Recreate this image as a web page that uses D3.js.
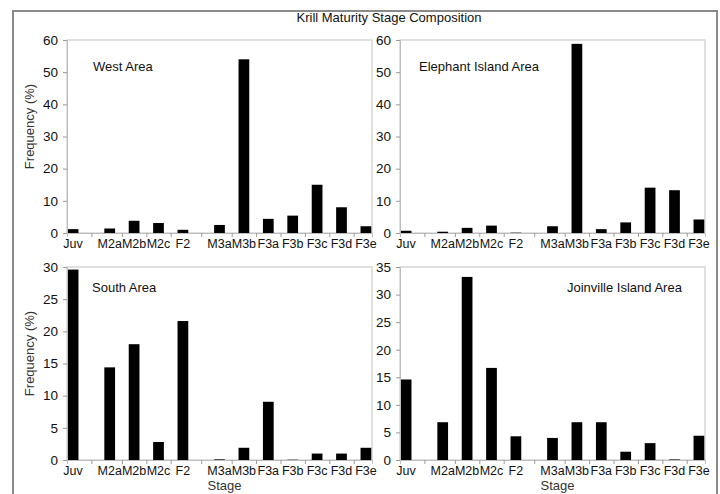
<!DOCTYPE html>
<html><head><meta charset="utf-8">
<script src="https://cdn.jsdelivr.net/npm/d3@7"></script>
<style>
html,body{margin:0;padding:0;background:#fff;}
svg{display:block;font-family:"Liberation Sans",Arial,Helvetica,sans-serif;}
</style></head>
<body>
<svg id="chart" width="720" height="494"></svg>
<script>
const stages = ["Juv","M2a","M2b","M2c","F2","M3a","M3b","F3a","F3b","F3c","F3d","F3e"];
const gapAfter = ["Juv","F2"];
const westValues      = [1.2,1.4,3.8,3.1,1.0,2.5,54.0,4.4,5.4,15.0,8.0,2.1];
const elephantValues  = [0.7,0.4,1.6,2.3,0.1,2.1,58.8,1.2,3.3,14.1,13.3,4.2];
const southValues     = [29.6,14.4,18.0,2.8,21.6,0.1,1.9,9.05,0.05,1.0,1.0,1.9];
const joinvilleValues = [14.6,6.85,33.2,16.7,4.3,4.0,6.85,6.85,1.5,3.06,0.1,4.4];
const yMaxes = [60,60,30,35];
const yStepValues = [10,10,5,5];
const panelNames = ["West Area","Elephant Island Area","South Area","Joinville Island Area"];
const title = "Krill Maturity Stage Composition";
const yTitle = "Frequency (%)";
const xTitle = "Stage";

const svg = d3.select("#chart");
// outer frame
svg.append("rect").attr("x",13).attr("y",11).attr("width",704).attr("height",500)
  .attr("fill","none").attr("stroke","#8a8a8a").attr("stroke-width",2);
svg.append("text").attr("x",389).attr("y",22).attr("text-anchor","middle")
  .attr("font-size",13).attr("fill","#111").text(title);

// category positions (gap of half a slot after Juv and F2)
const pos = [];
let p = 0;
stages.forEach((s,i)=>{ pos.push(p); p += gapAfter.includes(s) ? 1.5 : 1; });
const maxPos = pos[pos.length-1];

const panels = [
  {vals: westValues, x0:67, x1:372, y0:40, y1:233, lab:[93,71], ylab:true, xlab:false},
  {vals: elephantValues, x0:400, x1:705, y0:40, y1:233, lab:[419,71], ylab:false, xlab:false},
  {vals: southValues, x0:67, x1:372, y0:267, y1:460, lab:[92,292], ylab:true, xlab:true},
  {vals: joinvilleValues, x0:400, x1:705, y0:267, y1:460, lab:[567,292], ylab:false, xlab:true}
];

panels.forEach((pn,k)=>{
  const x = d3.scaleLinear().domain([-0.25, maxPos+0.25]).range([pn.x0, pn.x1]);
  const y = d3.scaleLinear().domain([0, yMaxes[k]]).range([pn.y1, pn.y0]);
  const g = svg.append("g");
  const unit = x(1)-x(0);
  // plot frame
  g.append("rect").attr("x",pn.x0).attr("y",pn.y0).attr("width",pn.x1-pn.x0).attr("height",pn.y1-pn.y0)
    .attr("fill","none").attr("stroke","#cfcfcf").attr("stroke-width",1.3);
  // bars
  const bw = unit*0.44;
  g.selectAll("rect.bar").data(pn.vals).enter().append("rect").attr("class","bar")
    .attr("x",(d,i)=>x(pos[i])-bw/2).attr("width",bw)
    .attr("y",d=>y(d)).attr("height",d=>Math.max(0.6,y(0)-y(d)))
    .attr("fill","#000");
  // y axis
  const ticks = d3.range(0, yMaxes[k]+0.001, yStepValues[k]);
  const ya = d3.axisLeft(y).tickValues(ticks).tickSize(4).tickPadding(5).tickFormat(d3.format("d"));
  const yg = g.append("g").attr("transform",`translate(${pn.x0},0)`).call(ya);
  yg.select(".domain").attr("stroke","#bdbdbd");
  yg.selectAll(".tick line").attr("stroke","#9a9a9a");
  yg.selectAll("text").attr("font-size",13.5).attr("fill","#111").attr("font-family","Liberation Sans, Arial, sans-serif");
  // x axis
  const mids = [];
  for(let i=0;i<pos.length-1;i++) mids.push((pos[i]+pos[i+1])/2);
  const xa = d3.axisBottom(x).tickValues(mids).tickSize(4).tickFormat("");
  const xg = g.append("g").attr("transform",`translate(0,${pn.y1})`).call(xa);
  xg.select(".domain").attr("stroke","#bdbdbd");
  xg.selectAll(".tick line").attr("stroke","#9a9a9a");
  g.selectAll("text.xl").data(stages).enter().append("text").attr("class","xl")
    .attr("x",(d,i)=>x(pos[i])).attr("y",pn.y1+15).attr("text-anchor","middle")
    .attr("font-size",12.5).attr("fill","#111").text(d=>d);
  // panel label
  g.append("text").attr("x",pn.lab[0]).attr("y",pn.lab[1]).attr("font-size",13).attr("fill","#111").text(panelNames[k]);
  if(pn.ylab){
    const cy = (pn.y0+pn.y1)/2 - 10;
    g.append("text").attr("transform",`translate(34,${cy}) rotate(-90)`).attr("text-anchor","middle")
      .attr("font-size",13).attr("fill","#333").text(yTitle);
  }
  if(pn.xlab){
    g.append("text").attr("x",(pn.x0+pn.x1)/2+5).attr("y",pn.y1+30).attr("text-anchor","middle")
      .attr("font-size",13).attr("fill","#333").text(xTitle);
  }
});
</script>
</body></html>
